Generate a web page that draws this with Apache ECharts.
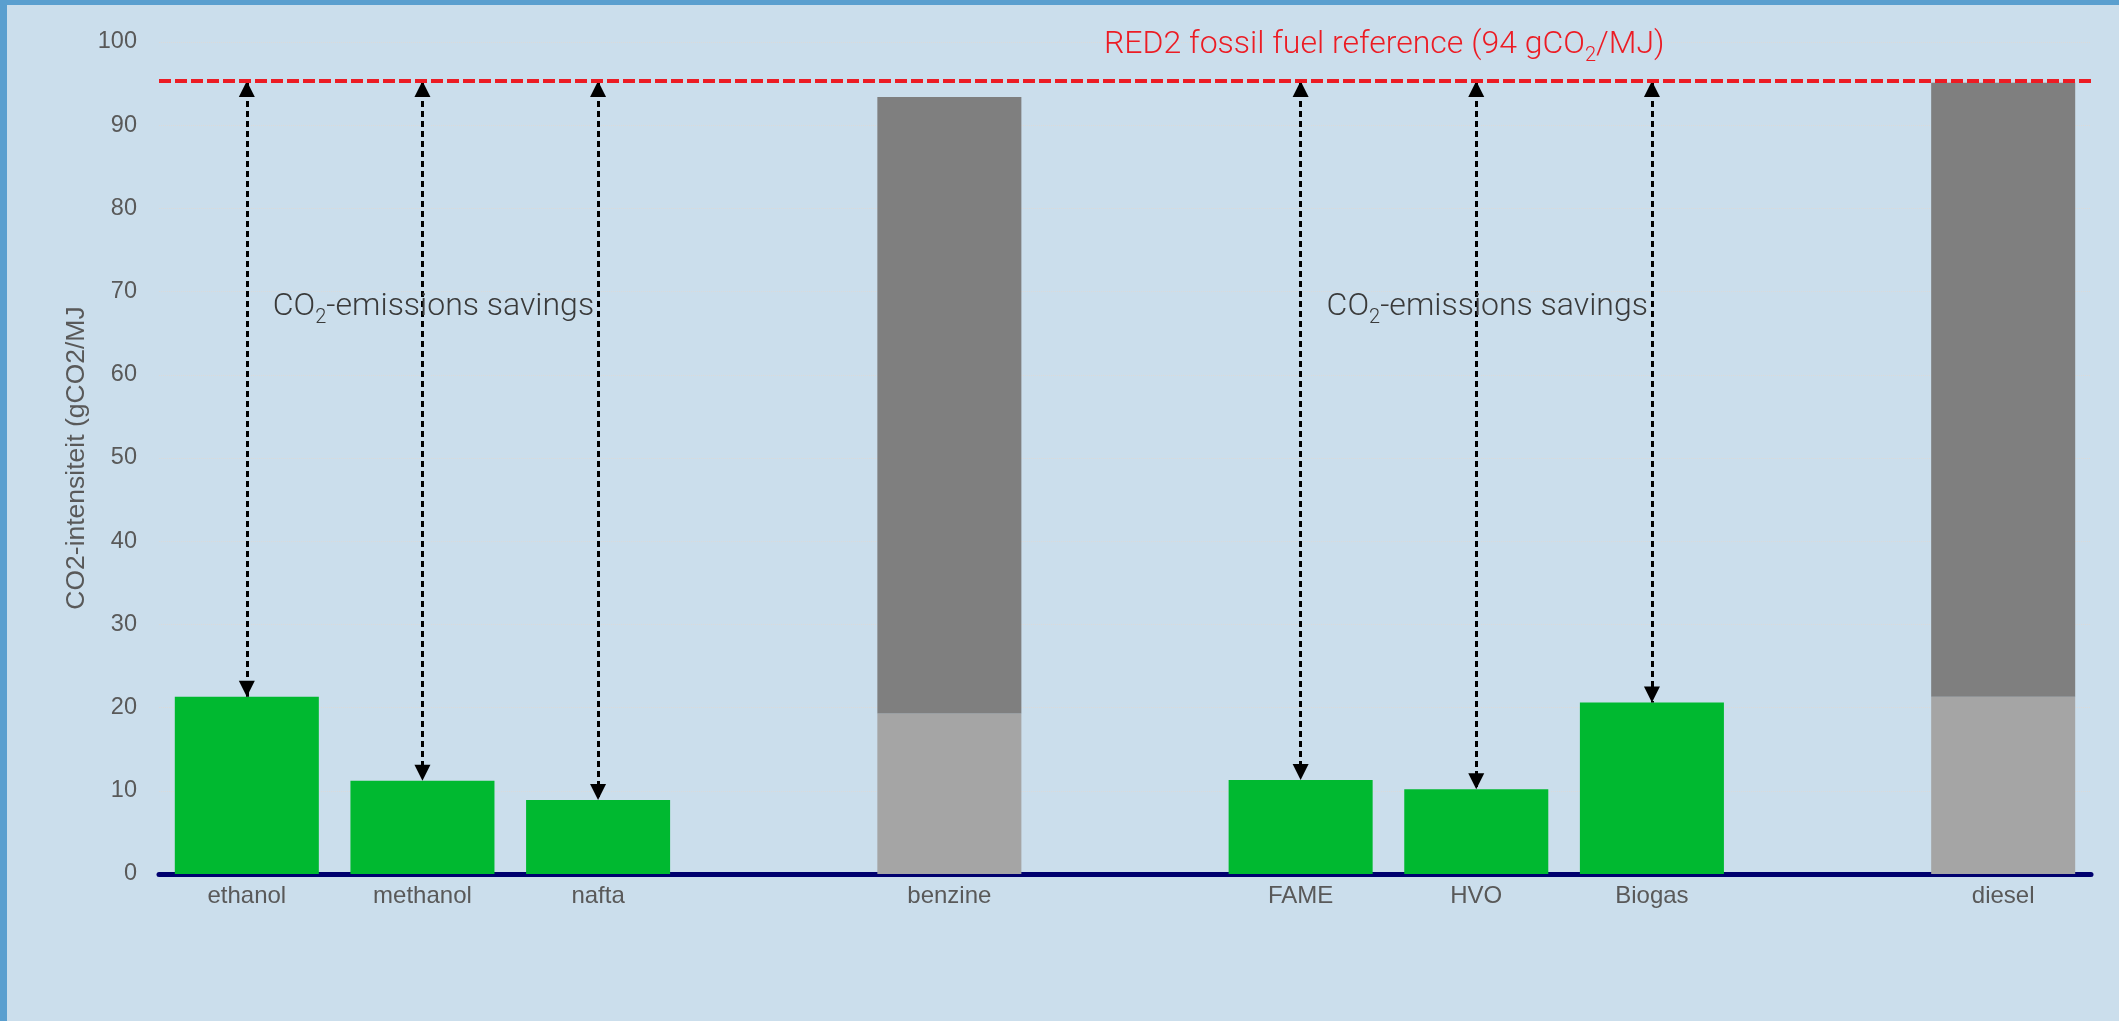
<!DOCTYPE html>
<html>
<head>
<meta charset="utf-8">
<script src="https://cdn.jsdelivr.net/npm/echarts@6/dist/echarts.min.js"></script>
<style>
  html, body { margin: 0; padding: 0; }
  #chart {
    width: 2119px;
    height: 1021px;
    box-sizing: border-box;
    border-left: 7px solid #5a9fcf;
    border-top: 5px solid #5a9fcf;
    background: #cbdeec;
  }
</style>
</head>
<body>
<div id="chart"></div>
<script>
// categories (empty strings are the gaps between groups)
const categories = ['ethanol', 'methanol', 'nafta', '', 'benzine', '', 'FAME', 'HVO', 'Biogas', '', 'diesel']
// biofuel intensities (green bars)
const bioValues = [21.3, 11.2, 8.9, null, null, null, 11.3, 10.2, 20.6, null, null]
// fossil fuels: lower light-grey part and total height
const fossilLower = [null, null, null, null, 19.3, null, null, null, null, null, 21.3]
const fossilTotal = [null, null, null, null, 93.4, null, null, null, null, null, 95.1]
// RED2 reference line as drawn in the picture
const refLevel = 95.3
const yTicks = { min: 0, max: 100, interval: 10 }
// arrows from the reference line down to these bars
const arrowBars = ['ethanol', 'methanol', 'nafta', 'FAME', 'HVO', 'Biogas']
// "CO2-emissions savings" annotations
const savingsNotes = [['methanol', 68.2], ['HVO', 68.2]]

const fossilUpper = fossilTotal.map((v, i) => v == null ? null : +(v - fossilLower[i]).toFixed(1))

const chart = echarts.init(document.getElementById('chart'))

const labelFont = 'Liberation Sans, Arial, sans-serif'
const subRich = (color, size, subSize) => ({
  a: { color: color, fontSize: size, fontFamily: 'Roboto', fontWeight: 300, lineHeight: 42 },
  s: { color: color, fontSize: subSize, fontFamily: 'Roboto', fontWeight: 300, lineHeight: 42, verticalAlign: 'bottom' }
})

const arrowLines = arrowBars.map(name => {
  const idx = categories.indexOf(name)
  return [
    { coord: [name, refLevel] },
    { coord: [name, bioValues[idx]] }
  ]
})

const option = {
  animation: false,
  title: {
    text: '{a|RED2 fossil fuel reference (94 gCO}{s|2}{a|/MJ)}',
    left: 1092,
    top: 14,
    textStyle: { rich: subRich('#ec1c24', 32, 20) }
  },
  grid: { left: 152, right: 28, top: 37, bottom: 147 },
  xAxis: {
    type: 'category',
    data: categories,
    axisLine: { lineStyle: { color: '#00006e', width: 5 } },
    axisTick: { show: false },
    axisLabel: { color: '#595959', fontSize: 24, fontFamily: labelFont, margin: 10 },
    splitLine: { show: false }
  },
  yAxis: {
    type: 'value',
    min: yTicks.min,
    max: yTicks.max,
    interval: yTicks.interval,
    name: 'CO2-intensiteit (gCO2/MJ',
    nameLocation: 'middle',
    nameGap: 69,
    nameMoveOverlap: false,
    nameTextStyle: { color: '#595959', fontSize: 26.5, fontFamily: labelFont },
    axisLine: { show: false },
    axisTick: { show: false },
    axisLabel: { color: '#595959', fontSize: 23.5, fontFamily: labelFont, margin: 22 },
    splitLine: { lineStyle: { color: '#dadada', width: 1, type: 'dotted' } }
  },
  series: [
    {
      name: 'bio',
      type: 'bar',
      stack: 'fuel',
      data: bioValues,
      barCategoryGap: '18%',
      itemStyle: { color: '#00b930' },
      silent: true,
      markLine: {
        silent: true,
        symbol: ['triangle', 'triangle'],
        symbolSize: 16,
        // pull both arrow tips back onto the line ends
        symbolOffset: [[0, '50%'], [0, '50%']],
        label: { show: false },
        lineStyle: { color: '#000', width: 3, type: [6, 4] },
        data: arrowLines
      },
      markPoint: {
        silent: true,
        symbol: 'circle',
        symbolSize: 0,
        label: {
          show: true,
          position: 'inside',
          offset: [11, 0],
          formatter: '{a|CO}{s|2}{a|-emissions savings}',
          rich: subRich('#3a3a3a', 32, 20)
        },
        data: savingsNotes.map(n => ({ coord: n }))
      }
    },
    {
      name: 'fossil lower',
      type: 'bar',
      stack: 'fuel',
      data: fossilLower,
      itemStyle: { color: '#a5a5a5' },
      silent: true
    },
    {
      name: 'fossil upper',
      type: 'bar',
      stack: 'fuel',
      data: fossilUpper,
      itemStyle: { color: '#7f7f7f' },
      silent: true,
      markLine: {
        silent: true,
        symbol: 'none',
        label: { show: false },
        lineStyle: { color: '#ec1c24', width: 4, type: [12, 4] },
        data: [{ yAxis: refLevel }]
      }
    }
  ]
}

chart.setOption(option)
</script>
</body>
</html>
